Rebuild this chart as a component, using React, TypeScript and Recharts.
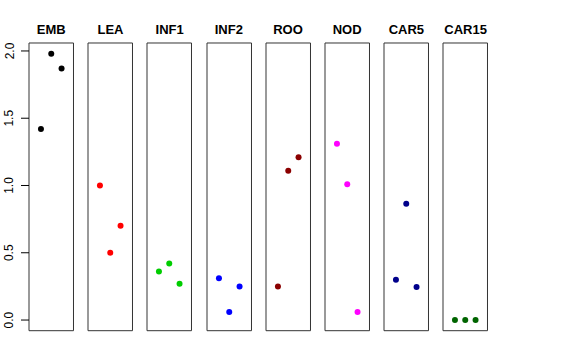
import { ReferenceArea, Scatter, ScatterChart, XAxis, YAxis } from "recharts";

const groups = ["EMB", "LEA", "INF1", "INF2", "ROO", "NOD", "CAR5", "CAR15"];
const colors = ["#000000", "#ff0000", "#00cd00", "#0000ff", "#8b0000", "#ff00ff", "#00008b", "#006400"];

const emb = [1.42, 1.98, 1.87];
const lea = [1.0, 0.5, 0.7];
const inf1 = [0.36, 0.42, 0.27];
const inf2 = [0.31, 0.06, 0.25];
const roo = [0.25, 1.11, 1.21];
const nod = [1.31, 1.01, 0.06];
const car5 = [0.3, 0.865, 0.245];
const car15 = [0, 0, 0];

const values = [emb, lea, inf1, inf2, roo, nod, car5, car15];
const yTicks = [0, 0.5, 1, 1.5, 2];

// R style: 4% padding on both axes
const X_DOMAIN: [number, number] = [-0.16, 4.16];
const Y_DOMAIN: [number, number] = [-0.0792, 2.0592];

const PLOT_TOP = 43.3;
const PLOT_H = 287.7;
const PLOT_W = 44.5;
const FIRST_LEFT = 29;
const STEP = 59.19;
const AXIS_W = 29;
const FONT = "'Liberation Sans', Arial, Helvetica, sans-serif";

function YTick(props: any) {
  const { x, y, payload } = props;
  const tx = x - 7.5;
  return (
    <text
      x={tx}
      y={y}
      transform={`rotate(-90, ${tx}, ${y})`}
      textAnchor="middle"
      fontSize={12}
      fontFamily={FONT}
      fill="#000"
    >
      {payload.value.toFixed(1)}
    </text>
  );
}

function Panel({ idx }: { idx: number }) {
  const first = idx === 0;
  const left = FIRST_LEFT + idx * STEP;
  const data = values[idx].map((v, i) => ({ x: i + 1, y: v }));
  const color = colors[idx];
  const chartLeft = first ? left - AXIS_W : left - 2;
  const width = first ? AXIS_W + PLOT_W + 2 : PLOT_W + 4;
  return (
    <>
      <div
        style={{
          position: "absolute",
          left: left,
          width: PLOT_W,
          top: 23,
          lineHeight: "13px",
          fontSize: 13,
          fontWeight: "bold",
          fontFamily: FONT,
          textAlign: "center",
          whiteSpace: "nowrap",
        }}
      >
        {groups[idx]}
      </div>
      <div style={{ position: "absolute", left: chartLeft, top: PLOT_TOP - 2 }}>
        <ScatterChart
          width={width}
          height={PLOT_H + 4}
          margin={{ top: 2, right: 2, bottom: 2, left: first ? 0 : 2 }}
        >
          <XAxis type="number" dataKey="x" domain={X_DOMAIN} hide />
          <YAxis
            type="number"
            dataKey="y"
            domain={Y_DOMAIN}
            ticks={yTicks}
            hide={!first}
            width={AXIS_W}
            axisLine={false}
            tickSize={8}
            tickMargin={0}
            tickLine={{ stroke: "#000", strokeWidth: 1 }}
            tick={<YTick />}
            interval={0}
          />
          <ReferenceArea
            x1={X_DOMAIN[0]}
            x2={X_DOMAIN[1]}
            y1={Y_DOMAIN[0]}
            y2={Y_DOMAIN[1]}
            fill="none"
            fillOpacity={0}
            stroke="#333"
            strokeWidth={1}
            ifOverflow="visible"
          />
          <Scatter
            data={data}
            isAnimationActive={false}
            shape={(p: any) => <circle cx={p.cx} cy={p.cy} r={3} fill={color} />}
          />
        </ScatterChart>
      </div>
    </>
  );
}

export default function App() {
  return (
    <div
      style={{
        position: "absolute",
        left: 0,
        top: 0,
        width: 576,
        height: 360,
        background: "#fff",
      }}
    >
      {groups.map((g, i) => (
        <Panel key={g} idx={i} />
      ))}
    </div>
  );
}
